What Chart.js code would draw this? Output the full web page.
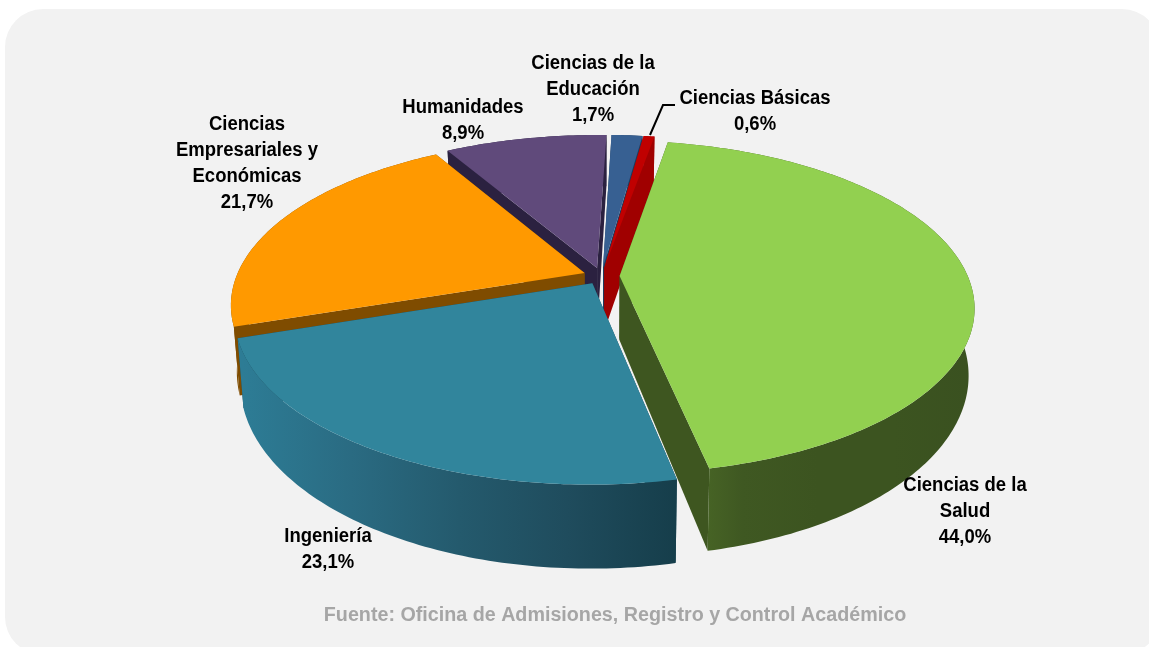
<!DOCTYPE html>
<html><head><meta charset="utf-8">
<script src="https://cdn.jsdelivr.net/npm/chart.js@4"></script>
<style>
html,body{margin:0;padding:0;background:#fff;overflow:hidden}
#panel{position:absolute;left:5px;top:9px;width:1155px;height:646px;border-radius:38px;background:#f2f2f2}
#wrap{position:absolute;left:0;top:0;width:1149px;height:647px}
</style></head><body>
<div id="panel"></div>
<div id="wrap"><canvas id="c" width="1149" height="647"></canvas></div>
<script>
const categories=[["Ciencias de la","Salud"],["Ingeniería"],["Ciencias","Empresariales y","Económicas"],["Humanidades"],["Ciencias de la","Educación"],["Ciencias Básicas"]];
const values=[44.0,23.1,21.7,8.9,1.7,0.6];
const topColors=["#92d050","#31859c","#ff9900","#604a7b","#376092","#c00000"];
const wallColors=[["#4f7028","#3f5822","#3c5420","#3c5420","#3a5120"],["#2d7c95","#2a6b82","#245a6d","#1f4c5d","#163e4b"],["#7f4c00","#7f4c00"],["#2b2140","#2b2140"],["#1f3a5c","#1f3a5c"],["#a00000","#a00000"]];
const faceColors=["#3e5620","#1a4656","#7f4c00","#2b2140","#1f3a5c","#a00000"];
const labelAnchors=[[965,485],[328,536],[247,124],[463,107],[593,63],[755,98]];
const sourceNote="Fuente: Oficina de Admisiones, Registro y Control Académico";

const view={xScale:1.294,yScale:.597,persp:.187,depth:64,depthPow:1.25,shrink:.984};
const labelFont='bold 20px "Liberation Sans", Arial, sans-serif';

function project(el,u,v,lower){
  const w=1-view.persp*v;
  let x=el.x+el.r*view.xScale*u/w, y=el.y+el.r*view.yScale*v/w;
  if(lower){x=el.x+(x-el.x)*view.shrink; y+=view.depth/Math.pow(w,view.depthPow);}
  return [x,y];
}
function slicePts(el,lower){
  const pts=[project(el,el.ox,el.oy,lower)];
  const n=Math.max(4,Math.ceil((el.e-el.s)*60));
  for(let i=0;i<=n;i++){const t=el.s+(el.e-el.s)*i/n;pts.push(project(el,Math.cos(t)+el.ox,Math.sin(t)+el.oy,lower));}
  return pts;
}
function poly(ctx,pts,fill){ctx.beginPath();pts.forEach((p,i)=>i?ctx.lineTo(p[0],p[1]):ctx.moveTo(p[0],p[1]));ctx.closePath();ctx.fillStyle=fill;ctx.fill();}
function squeezedText(ctx,t,x,y,sx){ctx.save();ctx.translate(x,y);ctx.scale(sx,1);ctx.fillText(t,0,0);ctx.restore();}

const pie3d={id:'pie3d',
  beforeDatasetDraw(chart,args){
    const ctx=chart.ctx;
    const els=args.meta.data.map((a,i)=>{
      const p=a.getProps(['x','y','startAngle','endAngle','outerRadius'],true);
      const mid=(p.startAngle+p.endAngle)/2, off=a.options.offset/p.outerRadius;
      return {i,x:p.x,y:p.y,r:p.outerRadius,s:p.startAngle,e:p.endAngle,ox:Math.cos(mid)*off,oy:Math.sin(mid)*off,mv:Math.sin(mid)};
    });
    const order=els.slice().sort((a,b)=>a.mv-b.mv);
    order.forEach(el=>{
      const top=slicePts(el,false), low=slicePts(el,true), n=top.length;
      poly(ctx,[top[0],top[1],low[1],low[0]],faceColors[el.i]);
      poly(ctx,[top[0],top[n-1],low[n-1],low[0]],faceColors[el.i]);
      const rim=low.slice(1).map(p=>p[0]);
      const x0=Math.min(...rim), x1=Math.max(...rim);
      const g=ctx.createLinearGradient(x0,0,x1,0);
      const stops=wallColors[el.i];
      stops.forEach((c,k)=>g.addColorStop(k/(stops.length-1),c));
      poly(ctx,top.slice(1).concat(low.slice(1).reverse()),g);
    });
    order.forEach(el=>poly(ctx,slicePts(el,false),topColors[el.i]));
    return false;
  },
  afterDraw(chart){
    const ctx=chart.ctx;
    ctx.save();
    ctx.strokeStyle='#000';ctx.lineWidth=2;
    ctx.beginPath();ctx.moveTo(650,135);ctx.lineTo(663,105);ctx.lineTo(675,105);ctx.stroke();
    ctx.font=labelFont;ctx.fillStyle='#000';ctx.textAlign='center';ctx.textBaseline='middle';
    categories.forEach((lines,i)=>{
      const pct=values[i].toFixed(1).replace('.',',')+'%';
      [...lines,pct].forEach((t,j)=>squeezedText(ctx,t,labelAnchors[i][0],labelAnchors[i][1]+j*26,.925));
    });
    ctx.fillStyle='#a6a6a6';
    squeezedText(ctx,sourceNote,615,615,.985);
    ctx.restore();
  }
};
new Chart(document.getElementById('c'),{
  type:'pie',
  data:{labels:categories.map(l=>l.join(' ')),datasets:[{data:values,backgroundColor:topColors,borderWidth:0,offset:14}]},
  options:{responsive:false,animation:false,rotation:10,
    layout:{padding:{left:54,right:0,top:0,bottom:95}},
    plugins:{legend:{display:false},tooltip:{enabled:false}}},
  plugins:[pie3d]
});
</script></body></html>
